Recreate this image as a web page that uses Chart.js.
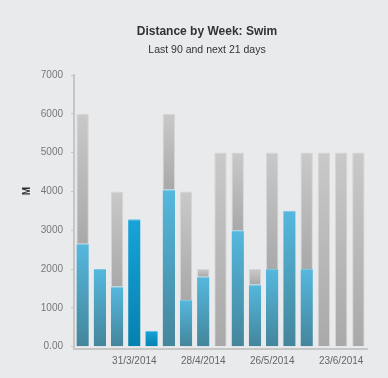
<!DOCTYPE html>
<html>
<head>
<meta charset="utf-8">
<script src="https://cdn.jsdelivr.net/npm/chart.js@4/dist/chart.umd.min.js"></script>
<style>
  html, body { margin: 0; padding: 0; background: #e9eaec; }
  #wrap { width: 388px; height: 378px; }
</style>
</head>
<body>
<div id="wrap"><canvas id="myChart"></canvas></div>
<script>
// weeks (Monday of each week)
const weeks = ['10/3/2014', '17/3/2014', '24/3/2014', '31/3/2014', '7/4/2014', '14/4/2014', '21/4/2014',
    '28/4/2014', '5/5/2014', '12/5/2014', '19/5/2014', '26/5/2014', '2/6/2014', '9/6/2014',
    '16/6/2014', '23/6/2014', '30/6/2014'];
// distance swum (M)
const actual = [2650, 2000, 1550, 3280, 410, 4050, 1200, 1800, 0, 3000, 1600, 2000, 3500, 2000, 0, 0, 0];
// planned distance (M)
const planned = [6000, 2000, 4000, 0, 0, 6000, 4000, 2000, 5000, 5000, 2000, 5000, 0, 5000, 5000, 5000, 5000];
// which week labels show on the x axis
const tickLabels = ['31/3/2014', '28/4/2014', '26/5/2014', '23/6/2014'];
const yTicks = [0, 1000, 2000, 3000, 4000, 5000, 6000, 7000];
// current weeks get the brighter blue
const currentWeeks = [3, 4];

const remaining = planned.map((p, i) => Math.max(p - actual[i], 0));

const FONT = '"Liberation Sans", Arial, sans-serif';

// vertical gradient between two data values, through the y scale
function gradient(c, from, to, top, bottom) {
    const y = c.chart.scales.y;
    if (!y || !c.chart.chartArea) return top;
    const y0 = y.getPixelForValue(to), y1 = y.getPixelForValue(from);
    if (!isFinite(y0) || !isFinite(y1) || y0 === y1) return top;
    const g = c.chart.ctx.createLinearGradient(0, y0, 0, y1);
    g.addColorStop(0, top);
    g.addColorStop(1, bottom);
    return g;
}

// titles and the y axis title "M"
const titles = {
    id: 'titles',
    afterDraw(chart) {
        const { ctx } = chart;
        ctx.save();
        ctx.fillStyle = '#333';
        ctx.textAlign = 'center';
        ctx.textBaseline = 'middle';
        ctx.font = 'bold 12px ' + FONT;
        ctx.fillText('Distance by Week: Swim', 207, 32);
        ctx.font = '10.5px ' + FONT;
        ctx.fillText('Last 90 and next 21 days', 207, 50);

        ctx.translate(27, 191);
        ctx.rotate(-Math.PI / 2);
        ctx.font = 'bold 10px ' + FONT;
        ctx.fillText('M', 0, 0);
        ctx.restore();
    }
};

const data = {
    labels: weeks,
    datasets: [
        {
            label: 'Actual',
            data: actual,
            backgroundColor: (c) => {
                if (c.type !== 'data') return '#55b8de';
                const v = actual[c.dataIndex];
                return currentWeeks.includes(c.dataIndex)
                    ? gradient(c, 0, v, '#18a3d8', '#0581b0')
                    : gradient(c, 0, v, '#55b8de', '#44859b');
            },
            borderColor: (c) => currentWeeks.includes(c.dataIndex) ? '#5cc0e6' : '#7ac6e4',
            borderWidth: { top: 1, left: 0, right: 0, bottom: 0 },
            borderSkipped: false
        },
        {
            label: 'Planned',
            data: remaining,
            backgroundColor: (c) => {
                if (c.type !== 'data') return '#c8c8c8';
                const a = actual[c.dataIndex];
                return gradient(c, a, a + remaining[c.dataIndex], '#c9c9c9', '#a9a9a9');
            },
            borderColor: '#d6d6d6',
            borderWidth: { top: 1, left: 1, right: 1, bottom: 0 },
            borderSkipped: false
        }
    ]
};

const config = {
    type: 'bar',
    data,
    options: {
        animation: false,
        responsive: true,
        maintainAspectRatio: false,
        layout: { padding: { left: 26, right: 21, top: 75, bottom: 5 } },
        datasets: { bar: { categoryPercentage: 1, barPercentage: 0.72 } },
        plugins: {
            legend: { display: false },
            tooltip: { enabled: false },
            title: { display: false }
        },
        scales: {
            x: {
                stacked: true,
                grid: { display: false, drawTicks: false },
                border: { color: '#c6c6c6', width: 2 },
                ticks: {
                    autoSkip: false,
                    maxRotation: 0,
                    padding: 6,
                    color: '#666',
                    font: { family: FONT, size: 10 },
                    callback: function (v, i) {
                        const l = weeks[i];
                        return tickLabels.includes(l) ? l : '';
                    }
                }
            },
            y: {
                stacked: true,
                min: -60,
                max: 7000,
                afterBuildTicks: (s) => { s.ticks = yTicks.map(v => ({ value: v })); },
                afterFit: (s) => { s.width = 48; },
                grid: { display: true, drawOnChartArea: false, tickLength: 3, color: '#c6c6c6' },
                border: { color: '#c6c6c6', width: 2 },
                ticks: {
                    padding: 8,
                    color: '#777',
                    font: { family: FONT, size: 10 },
                    callback: (v) => v === 0 ? '0.00' : String(v)
                }
            }
        }
    },
    plugins: [titles]
};

new Chart(document.getElementById('myChart'), config);
</script>
</body>
</html>
